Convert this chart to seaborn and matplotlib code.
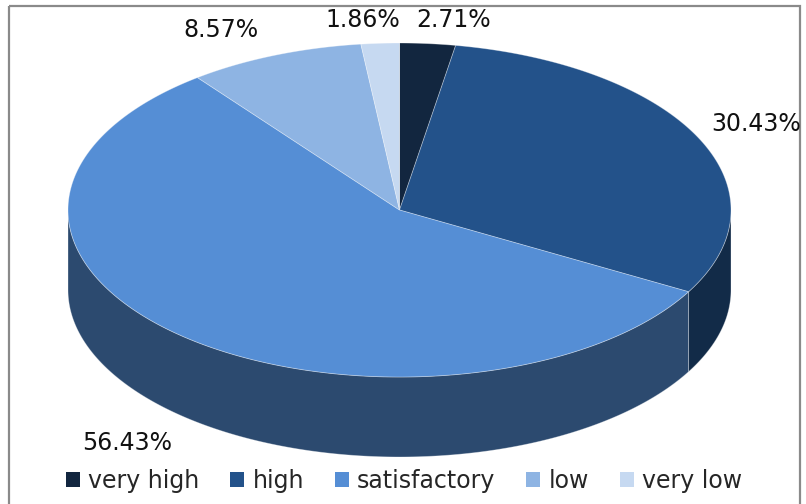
import numpy as np
import matplotlib
matplotlib.use("Agg")
import matplotlib.pyplot as plt
from matplotlib.patches import Polygon, Rectangle, Patch
import seaborn as sns

# Rating shares (percent), drawn clockwise from 12 o'clock
categories = ["very high", "high", "satisfactory", "low", "very low"]
shares = [2.71, 30.43, 56.43, 8.57, 1.86]
label_texts = ["2.71%", "30.43%", "56.43%", "8.57%", "1.86%"]
top_colors = ["#12263F", "#23528A", "#558ED5", "#8EB4E3", "#C6D9F1"]

sns.set_theme(style="white")
plt.rcParams["font.family"] = ["DejaVu Sans"]

W, H = 806, 504
fig = plt.figure(figsize=(W / 100, H / 100), dpi=100)
ax = fig.add_axes([0, 0, 1, 1])
ax.set_xlim(0, W)
ax.set_ylim(H, 0)
ax.axis("off")

# Pie geometry (canvas pixel coordinates)
cx, cy = 399.5, 210.0
rx, ry = 331.5, 167.0
depth = 80.0


def arc(t0, t1, n=200, dy=0.0):
    t = np.radians(np.linspace(t0, t1, n))
    return np.column_stack([cx + rx * np.sin(t), cy - ry * np.cos(t) + dy])


def shade(hex_color, f=0.52):
    r, g, b = matplotlib.colors.to_rgb(hex_color)
    return (r * f, g * f, b * f)


total = sum(shares)
bounds = np.concatenate([[0], np.cumsum(shares)]) / total * 360.0
edge = (1, 1, 1, 0.35)

# Side walls: only the front half (90°..270°) is visible
for i, col in enumerate(top_colors):
    a0, a1 = max(bounds[i], 90), min(bounds[i + 1], 270)
    if a1 <= a0:
        continue
    top = arc(a0, a1)
    bot = arc(a0, a1, dy=depth)[::-1]
    ax.add_patch(Polygon(np.vstack([top, bot]), closed=True,
                         facecolor=shade(col), edgecolor=edge, lw=0.6))

# Top faces
for i, col in enumerate(top_colors):
    pts = np.vstack([[cx, cy], arc(bounds[i], bounds[i + 1])])
    ax.add_patch(Polygon(pts, closed=True, facecolor=col,
                         edgecolor=edge, lw=0.6))

# Percentage labels
label_pos = [(454, 20), (756, 124), (127, 443), (221, 30), (363, 20)]
for txt, (x, y) in zip(label_texts, label_pos):
    ax.text(x, y, txt, fontsize=17, ha="center", va="center", color="#111111")

# Chart frame
ax.add_patch(Rectangle((9, 6), 791, 520, fill=False, edgecolor="#8a8a8a",
                       lw=1.6, clip_on=False))

handles = [Patch(facecolor=c, edgecolor="none") for c in top_colors]
ax.legend(handles, categories, loc="center", bbox_to_anchor=(404 / W, 1 - 481 / H),
          ncol=5, frameon=False, fontsize=17, handlelength=0.6, handleheight=0.6,
          handletextpad=0.35, columnspacing=1.3, borderpad=0, borderaxespad=0)

fig.savefig("out.png", dpi=100)
